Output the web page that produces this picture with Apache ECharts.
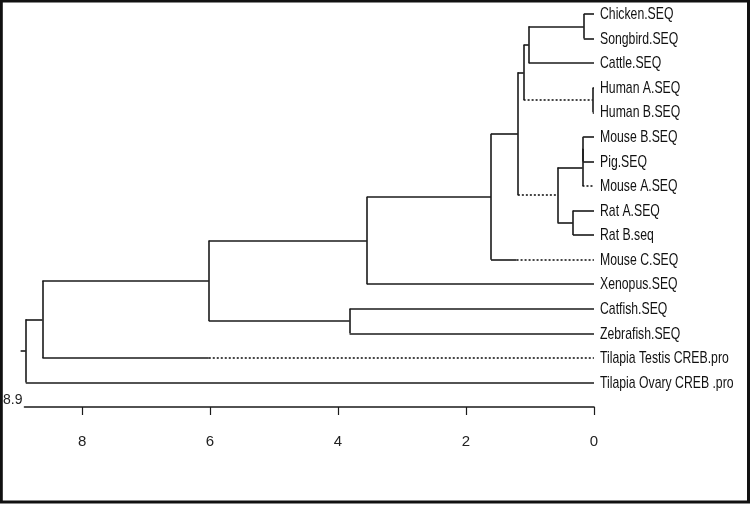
<!DOCTYPE html>
<html>
<head>
<meta charset="utf-8">
<script src="https://cdn.jsdelivr.net/npm/echarts@6/dist/echarts.min.js"></script>
<style>
html,body{margin:0;padding:0;background:#fff;}
#chart{width:750px;height:505px;}
</style>
</head>
<body>
<div id="chart"></div>
<script>
// Leaves, top to bottom
const leafNames = [
  'Chicken.SEQ', 'Songbird.SEQ', 'Cattle.SEQ', 'Human A.SEQ', 'Human B.SEQ',
  'Mouse B.SEQ', 'Pig.SEQ', 'Mouse A.SEQ', 'Rat A.SEQ', 'Rat B.seq',
  'Mouse C.SEQ', 'Xenopus.SEQ', 'Catfish.SEQ', 'Zebrafish.SEQ',
  'Tilapia Testis CREB.pro', 'Tilapia Ovary CREB .pro'
];
// Merges: ids < 16 are leaves, id 16 + k is the k-th merge
const mergeChildren = [
  [0, 1], [16, 2], [3, 4], [17, 18], [5, 6], [20, 7], [8, 9], [21, 22],
  [19, 23], [24, 10], [25, 11], [12, 13], [26, 27], [28, 14], [29, 15]
];
const mergeHeights = [0.16, 1.02, 0.02, 1.10, 0.17, 0.18, 0.33, 0.57, 1.19, 1.61, 3.55, 3.82, 6.02, 8.62, 8.88];
const rootStubEnd = 8.96;
// Branches drawn dotted (by child id) and the height where the dotted part starts
const dottedBranchIds = [18, 23, 10, 14, 7];
const dottedFromHeights = [1.10, 1.19, 1.21, 6.02, 0.18];
// Axis
const axisMax = 8.9;
const tickValues = [0, 2, 4, 6, 8];

const nLeaves = leafNames.length;
const nodeX = [], nodeY = [];
for (let i = 0; i < nLeaves; i++) { nodeX.push(0); nodeY.push(i); }
mergeChildren.forEach((ch, k) => {
  nodeX.push(mergeHeights[k]);
  nodeY.push((nodeY[ch[0]] + nodeY[ch[1]]) / 2);
});

const lineColor = '#1a1a1a';
const solid = { color: lineColor, width: 1.6, type: 'solid', opacity: 1 };
const dotted = { color: lineColor, width: 1.6, type: [2, 2], opacity: 1 };
const segs = [];
function seg(x1, y1, x2, y2, style) {
  segs.push({ coords: [[x1, y1], [x2, y2]], lineStyle: style });
}
mergeChildren.forEach((ch, k) => {
  const id = nLeaves + k;
  const h = nodeX[id];
  seg(h, nodeY[ch[0]], h, nodeY[ch[1]], solid);
  ch.forEach(c => {
    const di = dottedBranchIds.indexOf(c);
    if (di >= 0) {
      const from = dottedFromHeights[di];
      if (from < h) seg(h, nodeY[c], from, nodeY[c], solid);
      seg(from, nodeY[c], nodeX[c], nodeY[c], dotted);
    } else {
      seg(h, nodeY[c], nodeX[c], nodeY[c], solid);
    }
  });
});
const rootId = nodeX.length - 1;
seg(nodeX[rootId], nodeY[rootId], rootStubEnd, nodeY[rootId], solid);

const font = '"Liberation Sans", Arial, sans-serif';
const chart = echarts.init(document.getElementById('chart'), null, { renderer: 'canvas' });
chart.setOption({
  backgroundColor: '#fff',
  animation: false,
  grid: { left: 24, right: 156, top: 14, bottom: 98, containLabel: false },
  xAxis: {
    type: 'value', inverse: true, min: 0, max: axisMax, position: 'bottom',
    name: String(axisMax), nameLocation: 'end', nameGap: 2,
    nameTextStyle: { fontFamily: font, fontSize: 14, color: '#222', align: 'right', verticalAlign: 'bottom' },
    axisLine: { show: true, onZero: false, lineStyle: { color: lineColor, width: 1.6 } },
    axisTick: { show: true, customValues: tickValues, length: 8, lineStyle: { color: lineColor, width: 1.2 } },
    axisLabel: { customValues: tickValues, margin: 27, fontFamily: font, fontSize: 15, color: '#222' },
    splitLine: { show: false }
  },
  yAxis: {
    type: 'value', inverse: true, min: 0, max: nLeaves, interval: 1,
    show: false
  },
  graphic: [{
    type: 'rect', shape: { x: 1.3, y: 1, width: 747.2, height: 501 },
    style: { fill: 'none', stroke: '#111', lineWidth: 3 }, silent: true
  }],
  series: [{
    type: 'lines', coordinateSystem: 'cartesian2d', polyline: false, clip: false,
    silent: true, data: segs
  }, {
    type: 'custom', coordinateSystem: 'cartesian2d', clip: false, silent: true,
    data: leafNames.map((n, i) => [0, i]),
    encode: { x: 0, y: 1 },
    renderItem: (params, api) => {
      const p = api.coord([api.value(0), api.value(1)]);
      return {
        type: 'text', x: p[0] + 6, y: p[1] + 0.5, scaleX: 0.72,
        style: {
          text: leafNames[params.dataIndex], font: '17px "Liberation Sans"',
          fill: '#111', align: 'left', verticalAlign: 'middle'
        }
      };
    }
  }]
});
</script>
</body>
</html>
